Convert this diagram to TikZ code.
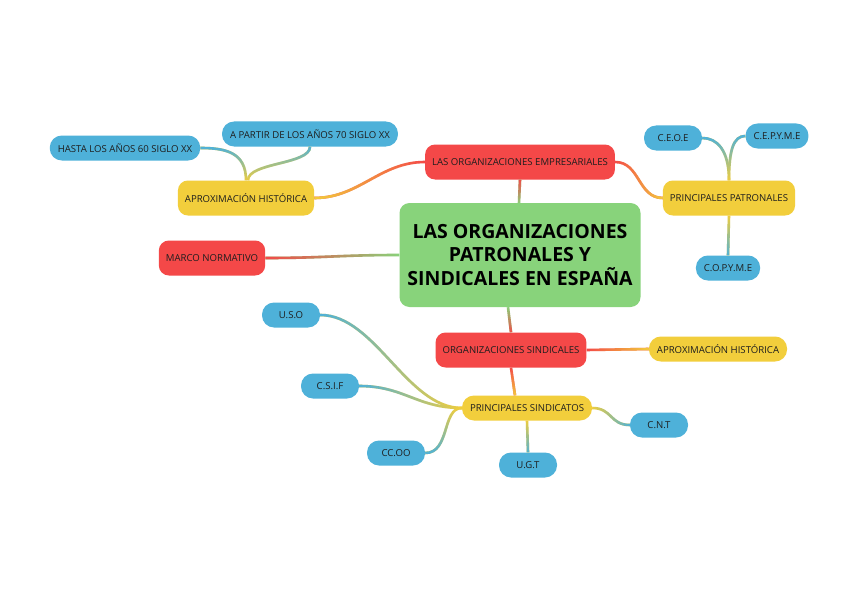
\documentclass[tikz,border=0pt]{standalone}
\usepackage{fontspec}
\setmainfont{Open Sans}
\usetikzlibrary{fadings}

\definecolor{mapgreen}{HTML}{88D37B}
\definecolor{mapred}{HTML}{F44848}
\definecolor{mapyellow}{HTML}{F2CE3C}
\definecolor{mapblue}{HTML}{4EB1D9}
\definecolor{maptext}{HTML}{1E1E1E}

\tikzfading[name=toW, left color=transparent!0, right color=transparent!100]
\tikzfading[name=toE, left color=transparent!100, right color=transparent!0]
\tikzfading[name=toN, top color=transparent!0, bottom color=transparent!100]
\tikzfading[name=toS, top color=transparent!100, bottom color=transparent!0]

% parent colour, child colour, fading towards child, path
\newcommand\gradline[4]{%
  \draw[wire, #1] #4;
  \draw[wire, #2, path fading=#3] #4;}

\begin{document}
\begin{tikzpicture}[
  x=1pt, y=-1pt,
  wire/.style={line width=2.6pt},
  hub/.style={fill=mapgreen, text=black, rounded corners=10pt, align=center, minimum width=241pt, minimum height=104pt, font=\fontsize{19.5}{23.5}\selectfont\bfseries},
  topic/.style={fill=#1, text=maptext, rounded corners=10pt, minimum height=35pt, inner xsep=7pt, font=\fontsize{9.6}{11}\selectfont},
  pill/.style={fill=#1, text=maptext, rounded corners=12pt, minimum height=25pt, inner xsep=8pt, font=\fontsize{9.6}{11}\selectfont},
  leaf/.style={pill=mapblue, minimum width=58pt}
]
\fill[white] (0,0) rectangle (848,599);

\node[hub] (hub) at (520,255) {LAS ORGANIZACIONES\\PATRONALES Y\\SINDICALES EN ESPAÑA};

\node[topic=mapred] (empre) at (520,162) {LAS ORGANIZACIONES EMPRESARIALES};
\node[topic=mapyellow] (aproxA) at (246,198) {APROXIMACIÓN HISTÓRICA};
\node[leaf] (hasta) at (125,148) {HASTA LOS AÑOS 60 SIGLO XX};
\node[leaf] (apartir) at (310,134) {A PARTIR DE LOS AÑOS 70 SIGLO XX};
\node[topic=mapyellow] (patron) at (729,198) {PRINCIPALES PATRONALES};
\node[leaf] (ceoe) at (673,138) {C.E.O.E};
\node[leaf] (cepyme) at (777,136) {C.E.P.Y.M.E};
\node[leaf] (copyme) at (728,268) {C.O.P.Y.M.E};

\node[topic=mapred] (marco) at (212,258) {MARCO NORMATIVO};

\node[topic=mapred] (sindic) at (511,350) {ORGANIZACIONES SINDICALES};
\node[pill=mapyellow] (aproxB) at (718,349) {APROXIMACIÓN HISTÓRICA};
\node[pill=mapyellow] (princS) at (527,408) {PRINCIPALES SINDICATOS};
\node[leaf] (uso) at (291,315) {U.S.O};
\node[leaf] (csif) at (330,386) {C.S.I.F};
\node[leaf] (ccoo) at (396,453) {CC.OO};
\node[leaf] (ugt) at (528,465) {U.G.T};
\node[leaf] (cnt) at (659,425) {C.N.T};

% branches
\gradline{mapgreen}{mapred}{toN}{([xshift=-1]hub.north) -- (empre.south)}
\gradline{mapred}{mapyellow}{toW}{(empre.west) .. controls +(-45,0) and +(45,0) .. (aproxA.east)}
\gradline{mapyellow}{mapblue}{toN}{(aproxA.north) .. controls +(0,-28) and +(25,0) .. (hasta.east)}
\gradline{mapyellow}{mapblue}{toN}{([xshift=2]aproxA.north) .. controls +(0,-18) and +(0,18) .. (apartir.south)}
\gradline{mapred}{mapyellow}{toE}{(empre.east) .. controls +(25,0) and +(-25,0) .. (patron.west)}
\gradline{mapyellow}{mapblue}{toN}{(patron.north) .. controls +(0,-30) and +(15,0) .. (ceoe.east)}
\gradline{mapyellow}{mapblue}{toN}{(patron.north) .. controls +(0,-30) and +(-12,0) .. (cepyme.west)}
\gradline{mapyellow}{mapblue}{toS}{(patron.south) -- (copyme.north)}

\gradline{mapgreen}{mapred}{toW}{(hub.west) .. controls +(-60,0) and +(60,0) .. (marco.east)}

\gradline{mapgreen}{mapred}{toS}{([xshift=-12]hub.south) -- (sindic.north)}
\gradline{mapred}{mapyellow}{toE}{(sindic.east) -- (aproxB.west)}
\gradline{mapred}{mapyellow}{toS}{(sindic.south) -- ([xshift=-12]princS.north)}
\gradline{mapyellow}{mapblue}{toW}{(princS.west) .. controls +(-55,0) and +(55,0) .. (uso.east)}
\gradline{mapyellow}{mapblue}{toW}{(princS.west) .. controls +(-45,0) and +(45,0) .. (csif.east)}
\gradline{mapyellow}{mapblue}{toS}{(princS.west) .. controls +(-20,0) and +(25,0) .. (ccoo.east)}
\gradline{mapyellow}{mapblue}{toS}{(princS.south) -- (ugt.north)}
\gradline{mapyellow}{mapblue}{toE}{(princS.east) .. controls +(20,0) and +(-20,0) .. (cnt.west)}
\end{tikzpicture}
\end{document}
